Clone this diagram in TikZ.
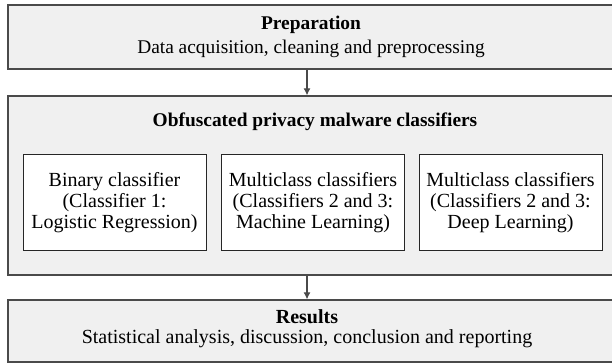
\documentclass[tikz,border=0pt]{standalone}
\usepackage{fontspec}
\setmainfont{Liberation Serif}
\usetikzlibrary{arrows.meta}
\definecolor{panelgray}{HTML}{F0F0F0}
\definecolor{edgegray}{HTML}{4A4A4A}
\begin{document}
\begin{tikzpicture}[x=1pt,y=1pt,
  panel/.style={draw=edgegray,fill=panelgray,line width=1.2pt,minimum width=606pt,inner sep=0pt,align=center},
  clsbox/.style={draw=black!85,fill=white,line width=1pt,minimum width=183pt,minimum height=96pt,inner sep=0pt,align=center,font=\fontsize{20}{21}\selectfont},
  flow/.style={draw=edgegray,line width=1.2pt,-{Latex[length=7pt,width=7pt]}}]
\useasboundingbox (0,0) rectangle (612,363);
\fill[white] (0,0) rectangle (612,363);
\node[panel,minimum height=64pt] (prep) at (311,326) {};
\node[anchor=base,inner sep=0pt,align=center,font=\fontsize{19.4}{24}\selectfont] (preptext) at (311,309) {\textbf{Preparation}\\Data acquisition, cleaning and preprocessing};
\node[panel,minimum height=179pt] (mid) at (311,177.5) {};
\node[anchor=base,inner sep=0pt,font=\fontsize{19.4}{22}\selectfont\bfseries] (midtitle) at (315,236) {Obfuscated privacy malware classifiers};
\node[clsbox] (c1) at (114.5,160) {Binary classifier\\(Classifier 1:\\Logistic Regression)};
\node[clsbox] (c2) at (313,160) {Multiclass classifiers\\(Classifiers 2 and 3:\\Machine Learning)};
\node[clsbox] (c3) at (510.5,160) {Multiclass classifiers\\(Classifiers 2 and 3:\\Deep Learning)};
\node[panel,minimum height=62pt] (res) at (311,32) {};
\node[anchor=base,inner sep=0pt,align=center,font=\fontsize{20}{20.5}\selectfont] (restext) at (307,19) {\textbf{Results}\\Statistical analysis, discussion, conclusion and reporting};
\coordinate (ax) at (307,0);
\draw[flow] (prep.south -| ax) -- (mid.north -| ax);
\draw[flow] (mid.south -| ax) -- (res.north -| ax);
\end{tikzpicture}
\end{document}
